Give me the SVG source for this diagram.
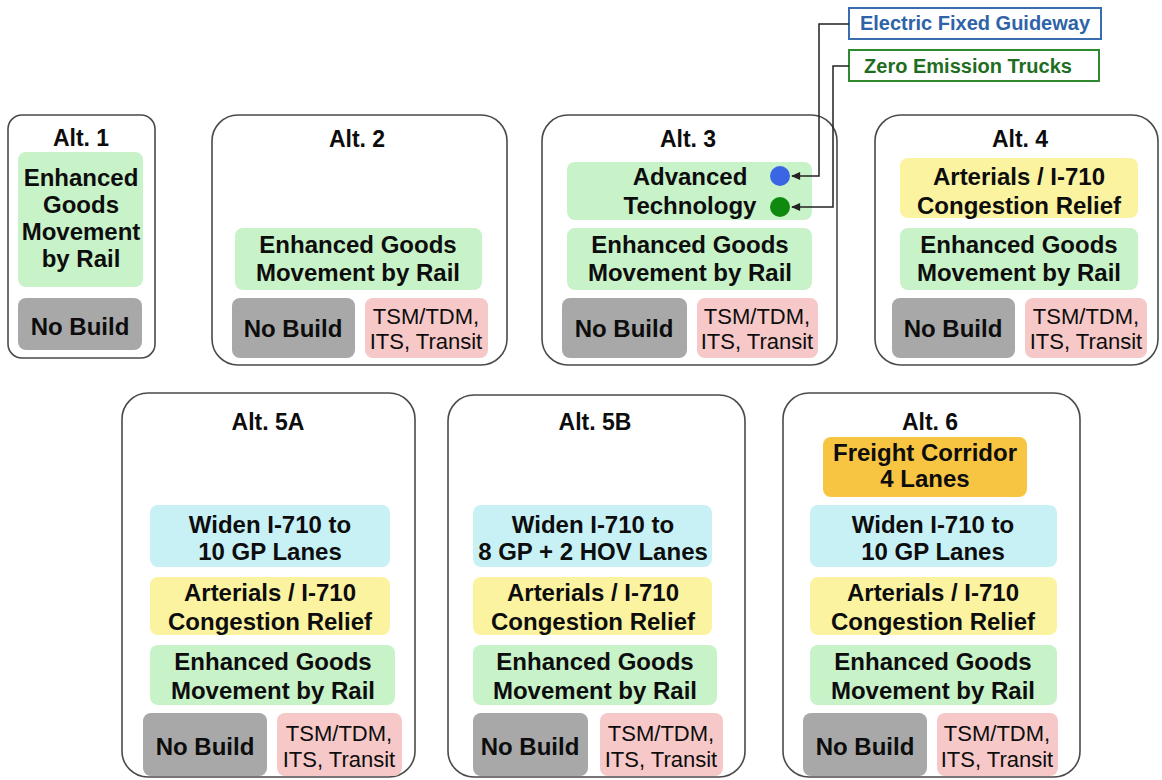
<svg xmlns="http://www.w3.org/2000/svg" width="1162" height="780" viewBox="0 0 1162 780">
<style>
text{font-family:"Liberation Sans",Arial,sans-serif;text-anchor:middle;fill:#0d0d0d}
.t{font-size:23px;font-weight:bold}
.b{font-size:24px;font-weight:bold}
.p{font-size:22px}
.alt{fill:#fff;stroke:#4a4a4a;stroke-width:1.6}
.g{fill:#c8f2c8}.y{fill:#fbf3a0}.c{fill:#c8f1f6}.o{fill:#f8c542}.gr{fill:#a8a8a8}.pk{fill:#f6c8c8}
.lbl{font-size:20px;font-weight:bold}
.con{fill:none;stroke:#222;stroke-width:1.5}
</style>
<defs>
<marker id="ah" viewBox="0 0 10 10" refX="9" refY="5" markerWidth="10" markerHeight="9" orient="auto" markerUnits="userSpaceOnUse">
<path d="M0,0.5 L10,5 L0,9.5 z" fill="#222"/>
</marker>
</defs>
<rect width="1162" height="780" fill="#fff"/>

<g id="alt1">
<rect class="alt" x="8" y="115" width="147" height="243" rx="14"/>
<text class="t" x="81" y="146">Alt. 1</text>
<rect class="g" x="18" y="152" width="125" height="135" rx="8"/>
<text class="b" x="81" y="186">Enhanced</text>
<text class="b" x="81" y="213">Goods</text>
<text class="b" x="81" y="240">Movement</text>
<text class="b" x="81" y="267">by Rail</text>
<rect class="gr" x="18" y="298" width="124" height="52" rx="8"/>
<text class="b" x="80" y="335">No Build</text>
</g>

<g id="alt2">
<rect class="alt" x="212" y="115" width="295" height="250" rx="26"/>
<text class="t" x="357" y="147">Alt. 2</text>
<rect class="g" x="235" y="228" width="247" height="62" rx="8"/>
<text class="b" x="358" y="253">Enhanced Goods</text>
<text class="b" x="358" y="281">Movement by Rail</text>
<rect class="gr" x="232" y="298" width="123" height="60" rx="8"/>
<text class="b" x="293" y="337">No Build</text>
<rect class="pk" x="365" y="298" width="123" height="60" rx="8"/>
<text class="p" x="426" y="324">TSM/TDM,</text>
<text class="p" x="426" y="349">ITS, Transit</text>
</g>

<g id="alt3">
<rect class="alt" x="542" y="115" width="295" height="250" rx="26"/>
<text class="t" x="688" y="147">Alt. 3</text>
<rect class="g" x="567" y="162" width="245" height="58" rx="8"/>
<text class="b" x="690" y="185">Advanced</text>
<text class="b" x="690" y="214">Technology</text>
<circle cx="780" cy="176" r="10" fill="#3a66e6"/>
<circle cx="780" cy="207" r="10" fill="#0f8a0f"/>
<rect class="g" x="567" y="228" width="245" height="62" rx="8"/>
<text class="b" x="690" y="253">Enhanced Goods</text>
<text class="b" x="690" y="281">Movement by Rail</text>
<rect class="gr" x="562" y="298" width="125" height="60" rx="8"/>
<text class="b" x="624" y="337">No Build</text>
<rect class="pk" x="697" y="298" width="121" height="60" rx="8"/>
<text class="p" x="757" y="324">TSM/TDM,</text>
<text class="p" x="757" y="349">ITS, Transit</text>
</g>

<g id="alt4">
<rect class="alt" x="875" y="115" width="283" height="250" rx="26"/>
<text class="t" x="1020" y="147">Alt. 4</text>
<rect class="y" x="900" y="158" width="238" height="60" rx="8"/>
<text class="b" x="1019" y="185">Arterials / I-710</text>
<text class="b" x="1019" y="214">Congestion Relief</text>
<rect class="g" x="900" y="228" width="238" height="62" rx="8"/>
<text class="b" x="1019" y="253">Enhanced Goods</text>
<text class="b" x="1019" y="281">Movement by Rail</text>
<rect class="gr" x="892" y="298" width="123" height="60" rx="8"/>
<text class="b" x="953" y="337">No Build</text>
<rect class="pk" x="1025" y="298" width="122" height="60" rx="8"/>
<text class="p" x="1086" y="324">TSM/TDM,</text>
<text class="p" x="1086" y="349">ITS, Transit</text>
</g>

<g id="efg">
<rect x="849" y="8" width="252" height="31" fill="#fff" stroke="#3a6cb0" stroke-width="2"/>
<text class="lbl" x="975" y="30" style="fill:#2f63a8">Electric Fixed Guideway</text>
</g>
<g id="zet">
<rect x="849" y="50" width="250" height="31" fill="#fff" stroke="#2f8a2f" stroke-width="2"/>
<text class="lbl" x="968" y="73" style="fill:#1f6e1f">Zero Emission Trucks</text>
</g>

<g id="alt5a">
<rect class="alt" x="122" y="393" width="293" height="384" rx="26"/>
<text class="t" x="268" y="430">Alt. 5A</text>
<rect class="c" x="150" y="505" width="240" height="62" rx="8"/>
<text class="b" x="270" y="533">Widen I-710 to</text>
<text class="b" x="270" y="560">10 GP Lanes</text>
<rect class="y" x="150" y="577" width="240" height="58" rx="8"/>
<text class="b" x="270" y="601">Arterials / I-710</text>
<text class="b" x="270" y="630">Congestion Relief</text>
<rect class="g" x="150" y="645" width="245" height="60" rx="8"/>
<text class="b" x="273" y="670">Enhanced Goods</text>
<text class="b" x="273" y="699">Movement by Rail</text>
<rect class="gr" x="143" y="713" width="124" height="63" rx="8"/>
<text class="b" x="205" y="755">No Build</text>
<rect class="pk" x="277" y="713" width="125" height="63" rx="8"/>
<text class="p" x="339" y="741">TSM/TDM,</text>
<text class="p" x="339" y="767">ITS, Transit</text>
</g>

<g id="alt5b">
<rect class="alt" x="448" y="395" width="297" height="382" rx="26"/>
<text class="t" x="595" y="430">Alt. 5B</text>
<rect class="c" x="473" y="505" width="239" height="62" rx="8"/>
<text class="b" x="593" y="533">Widen I-710 to</text>
<text class="b" x="593" y="560">8 GP + 2 HOV Lanes</text>
<rect class="y" x="473" y="577" width="239" height="58" rx="8"/>
<text class="b" x="593" y="601">Arterials / I-710</text>
<text class="b" x="593" y="630">Congestion Relief</text>
<rect class="g" x="473" y="645" width="244" height="60" rx="8"/>
<text class="b" x="595" y="670">Enhanced Goods</text>
<text class="b" x="595" y="699">Movement by Rail</text>
<rect class="gr" x="473" y="713" width="115" height="63" rx="8"/>
<text class="b" x="530" y="755">No Build</text>
<rect class="pk" x="600" y="713" width="123" height="63" rx="8"/>
<text class="p" x="661" y="741">TSM/TDM,</text>
<text class="p" x="661" y="767">ITS, Transit</text>
</g>

<g id="alt6">
<rect class="alt" x="783" y="393" width="297" height="384" rx="26"/>
<text class="t" x="930" y="430">Alt. 6</text>
<rect class="o" x="823" y="437" width="204" height="60" rx="8"/>
<text class="b" x="925" y="461">Freight Corridor</text>
<text class="b" x="925" y="487">4 Lanes</text>
<rect class="c" x="810" y="505" width="247" height="62" rx="8"/>
<text class="b" x="933" y="533">Widen I-710 to</text>
<text class="b" x="933" y="560">10 GP Lanes</text>
<rect class="y" x="810" y="577" width="247" height="58" rx="8"/>
<text class="b" x="933" y="601">Arterials / I-710</text>
<text class="b" x="933" y="630">Congestion Relief</text>
<rect class="g" x="810" y="645" width="247" height="60" rx="8"/>
<text class="b" x="933" y="670">Enhanced Goods</text>
<text class="b" x="933" y="699">Movement by Rail</text>
<rect class="gr" x="803" y="713" width="124" height="63" rx="8"/>
<text class="b" x="865" y="755">No Build</text>
<rect class="pk" x="937" y="713" width="121" height="63" rx="8"/>
<text class="p" x="997" y="741">TSM/TDM,</text>
<text class="p" x="997" y="767">ITS, Transit</text>
</g>

<g id="connectors">
<path class="con" d="M849,24 H819 V176 H792" marker-end="url(#ah)"/>
<path class="con" d="M849,66 H833 V207 H792" marker-end="url(#ah)"/>
</g>
</svg>
